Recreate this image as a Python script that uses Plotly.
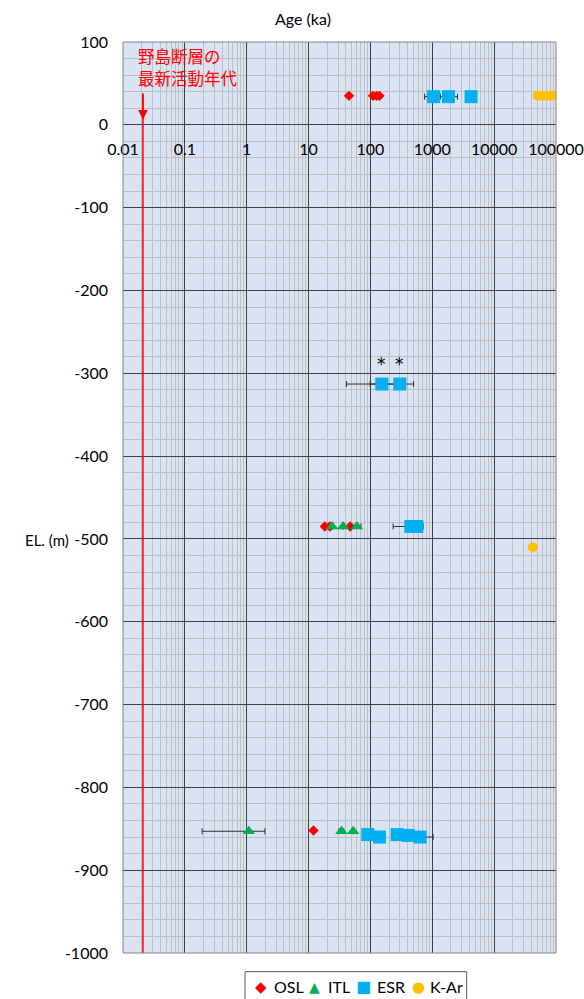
import math
import plotly.graph_objects as go

# ---- dating results: age (ka) vs. elevation (m) ----
osl_age = [45, 110, 125, 140, 18.3, 22.1, 47, 12.0]
osl_el = [35, 35, 35, 35, -485, -485, -485, -852]

itl_age = [24.1, 36.2, 60.3, 1.08, 34.1, 52.6]
itl_el = [-485, -485, -485, -853, -853, -853]
itl_err = [None, None, 10, 0.89, 3, None]

esr_age = [1050, 1830, 4240, 153, 299, 450, 562, 90.8, 140, 270, 406, 635]
esr_el = [34, 34, 34, -313, -313, -485, -485, -857, -860, -857, -858, -860]
esr_err = [300, 725, None, 112, 200, 217, 148, None, None, None, None, 396]

kar_age = [50600, 60600, 73000, 88400, 42000]
kar_el = [35, 35, 35, 35, -510]

# latest activity of the Nojima fault
fault_age = [0.021, 0.021]
fault_el = [38, -1000]
fault_arrow_tip = 6
fault_label = ["野島断層の", "最新活動年代"]

# ESR samples flagged with an asterisk
starred_age = [153, 299]
starred_el = [-313, -313]

x_tickvals = [0.01, 0.1, 1, 10, 100, 1000, 10000, 100000]
x_ticktext = ["0.01", "0.1", "1", "10", "100", "1000", "10000", "100000"]
y_tickvals = [100, 0, -100, -200, -300, -400, -500, -600, -700, -800, -900, -1000]
y_ticktext = ["100", "0", "-100", "-200", "-300", "-400", "-500", "-600",
              "-700", "-800", "-900", "-1000"]

# legend entries: name, glyph, colour
legend_names = ["OSL", "ITL", "ESR", "K-Ar"]
legend_glyphs = ["◆", "▲", "■", "●"]
legend_colors = ["#ff0000", "#00b050", "#00b0f0", "#ffc000"]

FONT = "Lato"
MAJOR = "#404040"
MINOR = "#bfbfbf"
ERR = "#303030"

fig = go.Figure()

fig.add_trace(go.Scatter(
    x=fault_age, y=fault_el, mode="lines",
    line=dict(color="#ff0000", width=1.5),
    showlegend=False, hoverinfo="skip"))

fig.add_trace(go.Scatter(
    x=osl_age, y=osl_el, mode="markers", name="OSL",
    marker=dict(symbol="diamond", size=8, color=legend_colors[0])))

fig.add_trace(go.Scatter(
    x=itl_age, y=itl_el, mode="markers", name="ITL",
    marker=dict(symbol="triangle-up", size=11, color=legend_colors[1]),
    error_x=dict(type="data", array=itl_err, color=ERR, thickness=1, width=3)))

fig.add_trace(go.Scatter(
    x=esr_age, y=esr_el, mode="markers", name="ESR",
    marker=dict(symbol="square", size=13, color=legend_colors[2]),
    error_x=dict(type="data", array=esr_err, color=ERR, thickness=1, width=3)))

fig.add_trace(go.Scatter(
    x=kar_age, y=kar_el, mode="markers", name="K-Ar",
    marker=dict(symbol="circle", size=10, color=legend_colors[3])))

# asterisks above flagged ESR samples
for a, e in zip(starred_age, starred_el):
    fig.add_annotation(x=math.log10(a), y=e, text="*",
                       showarrow=False, yshift=20,
                       font=dict(family="DejaVu Sans", size=17, color="#000000"))

# arrow head pointing at the fault's latest activity
fig.add_annotation(x=math.log10(fault_age[0]), y=fault_arrow_tip,
                   ax=math.log10(fault_age[0]), ay=fault_el[0],
                   axref="x", ayref="y", text="", showarrow=True,
                   arrowhead=2, arrowsize=1.3, arrowwidth=1.5,
                   arrowcolor="#ff0000")

# two-line label of the fault marker
for line_text, ly in zip(fault_label, [0.9846, 0.9605]):
    fig.add_annotation(xref="paper", yref="paper", x=0.03, y=ly,
                       xanchor="left", yanchor="middle",
                       text=line_text, showarrow=False,
                       font=dict(family="Noto Sans CJK JP", size=16.5,
                                 color="#ff0000"))

fig.add_annotation(xref="paper", yref="paper", x=0.4157, y=1.0263,
                   xanchor="center", yanchor="middle",
                   text="Age (ka)", showarrow=False,
                   font=dict(family=FONT, size=16, color="#000000"))

fig.add_annotation(xref="paper", yref="paper", x=-0.176, y=0.4533,
                   xanchor="center", yanchor="middle",
                   text="EL. (m)", showarrow=False,
                   font=dict(family=FONT, size=15, color="#000000"))

# legend box below the plot
fig.add_shape(type="rect", xref="paper", yref="paper",
              x0=0.2818, x1=0.7937, y0=-0.065, y1=-0.0205,
              line=dict(color="#595959", width=1), fillcolor="#ffffff")
glyph_x = [0.3187, 0.4434, 0.555, 0.6836]
label_x = [0.3434, 0.4688, 0.582, 0.7044]
glyph_size = [15, 14, 16, 15]
for name, g, c, gx, lx, gs in zip(legend_names, legend_glyphs, legend_colors,
                                  glyph_x, label_x, glyph_size):
    fig.add_annotation(xref="paper", yref="paper", x=gx, y=-0.037,
                       text=g, showarrow=False, xanchor="center", yanchor="middle",
                       font=dict(family="DejaVu Sans", size=gs, color=c))
    fig.add_annotation(xref="paper", yref="paper", x=lx, y=-0.037,
                       text=name, showarrow=False, xanchor="left", yanchor="middle",
                       font=dict(family=FONT, size=16, color="#000000"))

minor_x = [m * 10 ** e for e in range(-2, 5) for m in range(2, 10)]

fig.update_xaxes(
    type="log", range=[-2, 5],
    tickmode="array", tickvals=x_tickvals, ticktext=x_ticktext,
    showgrid=True, gridcolor=MAJOR, gridwidth=1,
    minor=dict(tickmode="array", tickvals=minor_x, showgrid=True,
               gridcolor=MINOR, gridwidth=1, ticks=""),
    anchor="free", position=1000 / 1100, side="bottom",
    showline=False, zeroline=False, ticks="", automargin=False,
    ticklabelstandoff=13,
    tickfont=dict(family=FONT, size=16, color="#000000"))

fig.update_yaxes(
    range=[-1000, 100],
    tickmode="array", tickvals=y_tickvals, ticktext=y_ticktext,
    showgrid=True, gridcolor=MAJOR, gridwidth=1,
    minor=dict(dtick=20, showgrid=True, gridcolor=MINOR, gridwidth=1, ticks=""),
    showline=False, zeroline=False, ticks="", automargin=False,
    ticklabelstandoff=14,
    tickfont=dict(family=FONT, size=16, color="#000000"))

# plot-area border
fig.add_shape(type="rect", xref="paper", yref="paper", x0=0, x1=1, y0=0, y1=1,
              line=dict(color="#868686", width=1), layer="above")

fig.update_layout(
    width=584, height=999,
    margin=dict(l=123, r=28, t=42, b=46, autoexpand=False),
    paper_bgcolor="#ffffff", plot_bgcolor="#dae3f3",
    font=dict(family=FONT, size=16, color="#000000"),
    showlegend=False,
)

fig.write_html("out.html")
